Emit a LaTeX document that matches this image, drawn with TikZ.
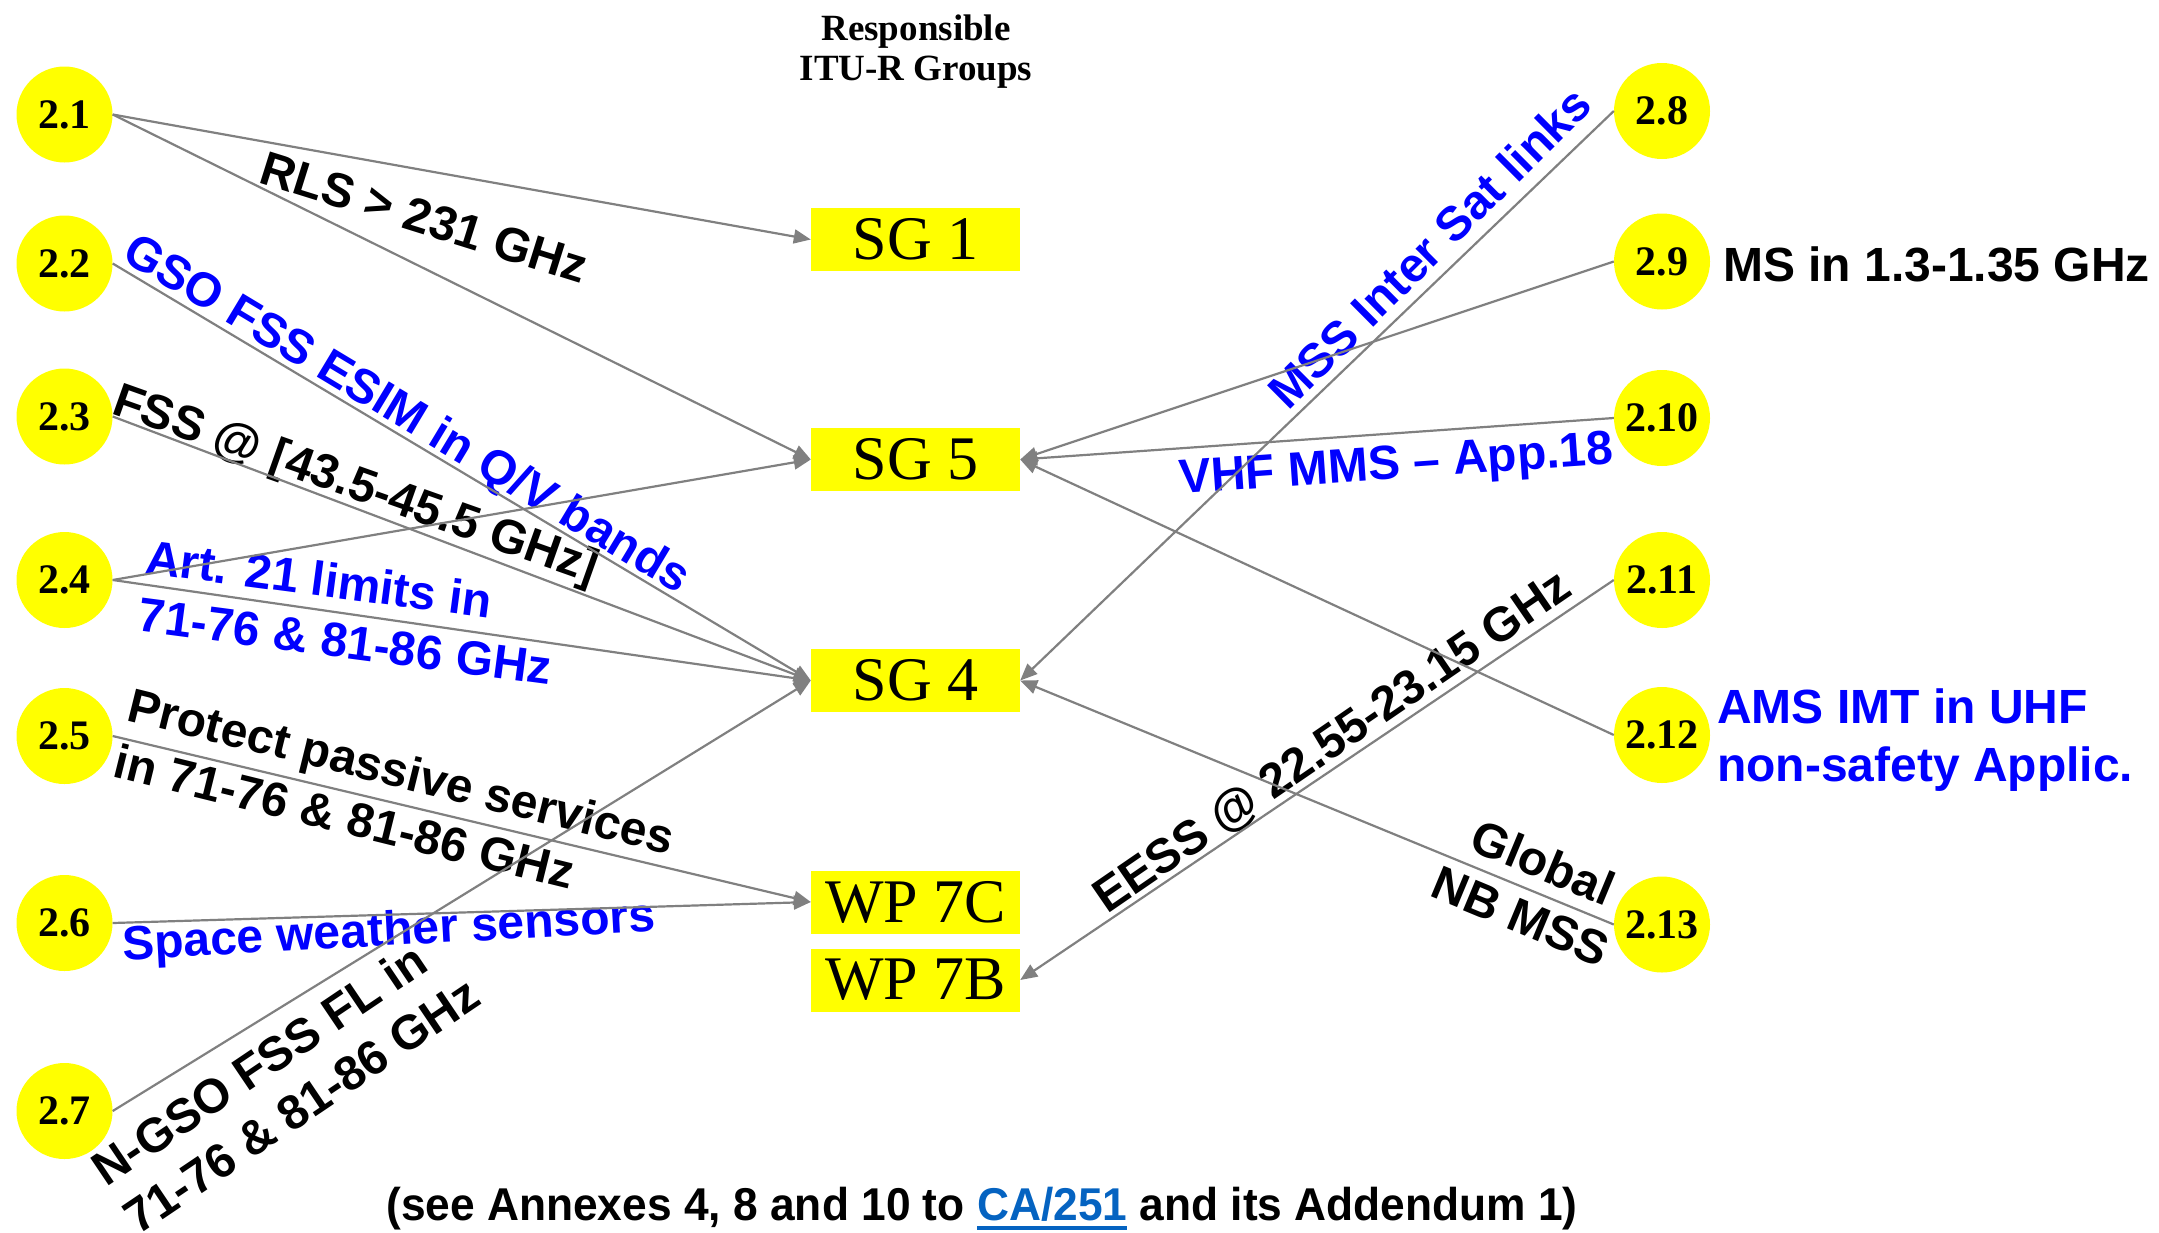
\documentclass[tikz,border=0pt]{standalone}
\usepackage{fontspec}
\setmainfont{Liberation Serif}
\setsansfont{Liberation Sans}
\newfontfamily\narrowsans{Liberation Sans}[FakeStretch=0.963]
\usetikzlibrary{arrows.meta}
\definecolor{ylw}{RGB}{255,255,0}
\definecolor{lgray}{RGB}{128,128,128}
\definecolor{lblue}{RGB}{0,0,255}
\definecolor{linkblue}{RGB}{5,99,193}
\newsavebox\linkbox
\newcommand\linkul[1]{\sbox\linkbox{#1}\rlap{\color{linkblue}\vrule width\wd\linkbox height -6pt depth 10pt}\usebox\linkbox}
\begin{document}
\begin{tikzpicture}[x=1pt,y=-1pt,
  circ/.style={circle,fill=ylw,minimum size=96pt,inner sep=0pt,font=\fontsize{42}{48}\selectfont\bfseries},
  grp/.style={fill=ylw,minimum width=209pt,minimum height=63pt,inner sep=0pt,font=\fontsize{62}{70}\selectfont},
  conn/.style={draw=lgray,line width=2.2pt,-{Triangle[length=17pt,width=14pt]}},
  lab/.style={inner sep=0pt,font=\fontsize{48}{58}\selectfont\sffamily\bfseries},
  blab/.style={lab,text=lblue}]
\useasboundingbox (0,0) rectangle (2159,1232);

% title
\node[anchor=north,align=center,inner sep=0pt,font=\fontsize{37}{40}\selectfont\bfseries] (title) at (916,15) {Responsible\\ITU-R Groups};

% left circles
\node[circ] (c1) at (64.5,114.5) {2.1};
\node[circ] (c2) at (64.5,263.5) {2.2};
\node[circ] (c3) at (64.5,416.5) {2.3};
\node[circ] (c4) at (64.5,580) {2.4};
\node[circ] (c5) at (64.5,736) {2.5};
\node[circ] (c6) at (64.5,923) {2.6};
\node[circ] (c7) at (64.5,1111) {2.7};

% right circles
\node[circ] (c8) at (1662,111) {2.8};
\node[circ] (c9) at (1662,261.5) {2.9};
\node[circ] (c10) at (1662,418) {2.10};
\node[circ] (c11) at (1662,580) {2.11};
\node[circ] (c12) at (1662,735) {2.12};
\node[circ] (c13) at (1662,924.5) {2.13};

% groups
\node[grp] (sg1) at (915.5,239.5) {SG 1};
\node[grp] (sg5) at (915.5,459.5) {SG 5};
\node[grp] (sg4) at (915.5,680.5) {SG 4};
\node[grp] (wp7c) at (915.5,902) {WP 7C};
\node[grp] (wp7b) at (915.5,980) {WP 7B};

% labels
\node[lab,anchor=base west,rotate=-17.4] (lrls) at (257,182) {RLS > 231 GHz};
\node[blab,anchor=base west,rotate=-31] (lgso) at (120,259) {GSO FSS ESIM in Q/V bands};
\node[lab,anchor=base west,rotate=-19.5] (lfss) at (110,413) {FSS @ [43.5-45.5 GHz]};
\node[blab,anchor=north west,align=left,rotate=-7.5] (lart) at (148.6,538.3) {Art. 21 limits in\\71-76 \& 81-86 GHz};
\node[lab,anchor=north west,align=left,rotate=-13.9] (lprot) at (133.4,686) {Protect passive services\\in 71-76 \& 81-86 GHz};
\node[blab,anchor=base west,rotate=3.1] (lspace) at (123,960) {Space weather sensors};
\node[lab,anchor=north west,align=left,rotate=34] (lngso) at (86.4,1159) {N-GSO FSS FL in\\71-76 \& 81-86 GHz};
\node[blab,anchor=base west,rotate=44.8] (lmss) at (1288,412) {MSS Inter Sat links};
\node[lab,anchor=base west] (lms) at (1723,281) {MS in 1.3-1.35 GHz};
\node[blab,anchor=base west,rotate=4] (lvhf) at (1180,494) {VHF MMS – App.18};
\node[lab,anchor=base west,rotate=34.5] (leess) at (1107,915) {EESS @ 22.55-23.15 GHz};
\node[blab,anchor=north west,align=left] (lams) at (1717,689) {AMS IMT in UHF\\non-safety Applic.};
\node[lab,anchor=center,align=center,rotate=-22.6] (lglob) at (1532,889) {Global\\NB MSS};

% footnote
\node[anchor=base,inner sep=0pt] (foot) at (982,1220) {\narrowsans\bfseries\fontsize{46}{52}\selectfont (see Annexes 4, 8 and 10 to \textcolor{linkblue}{\linkul{CA/251}} and its Addendum 1)};

% connectors
\draw[conn] (c1.east) -- (sg1.west);
\draw[conn] (c1.east) -- (sg5.west);
\draw[conn] (c2.east) -- (sg4.west);
\draw[conn] (c3.east) -- (sg4.west);
\draw[conn] (c4.east) -- (sg5.west);
\draw[conn] (c4.east) -- (sg4.west);
\draw[conn] (c5.east) -- (wp7c.west);
\draw[conn] (c6.east) -- (wp7c.west);
\draw[conn] (c7.east) -- (sg4.west);
\draw[conn] (c8.west) -- (sg4.east);
\draw[conn] (c9.west) -- (sg5.east);
\draw[conn] (c10.west) -- (sg5.east);
\draw[conn] (c11.west) -- (wp7b.east);
\draw[conn] (c12.west) -- (sg5.east);
\draw[conn] (c13.west) -- (sg4.east);
\end{tikzpicture}
\end{document}
